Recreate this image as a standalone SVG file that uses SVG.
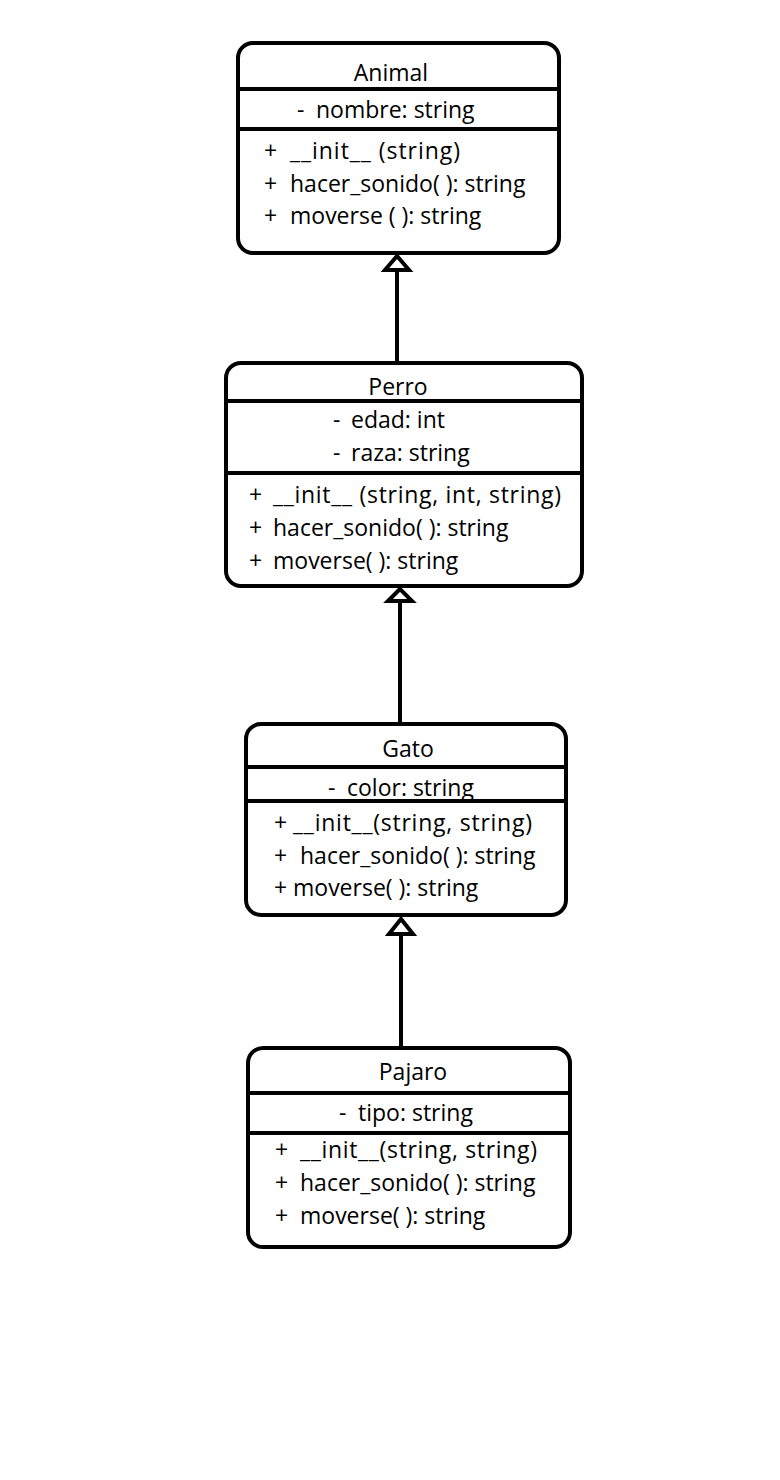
<svg xmlns="http://www.w3.org/2000/svg" width="780" height="1480" viewBox="0 0 780 1480">
<style>
.box{fill:#fff;stroke:#000;stroke-width:4}
.div{stroke:#000;stroke-width:4}
text{font-family:"Open Sans","Noto Sans",sans-serif;font-size:23px;fill:#000}
.c{text-anchor:middle}
.edge{stroke:#000;stroke-width:4;fill:none}
.head{fill:#fff;stroke:#000;stroke-width:4;stroke-linejoin:miter}
</style>
<rect width="780" height="1480" fill="#fff"/>
<g id="connectors">
<line class="edge" x1="397" y1="362" x2="397" y2="268"/>
<polygon class="head" points="397,256 385,270 409,270"/>
<line class="edge" x1="400" y1="723" x2="400" y2="600"/>
<polygon class="head" points="400,589 388,601 412,601"/>
<line class="edge" x1="401" y1="1047" x2="401" y2="933"/>
<polygon class="head" points="401,919 389,934 413,934"/>
</g>
<g id="Animal">
<rect class="box" x="238" y="43" width="321" height="210" rx="15"/>
<line class="div" x1="238" y1="89" x2="559" y2="89"/>
<line class="div" x1="238" y1="129" x2="559" y2="129"/>
<text class="c" x="391" y="81">Animal</text>
<text y="118"><tspan x="297">-</tspan><tspan x="316">nombre: string</tspan></text>
<text y="159"><tspan x="264">+</tspan><tspan x="290" textLength="170" lengthAdjust="spacing">__init__ (string)</tspan></text>
<text y="192"><tspan x="264">+</tspan><tspan x="290">hacer_sonido( ): string</tspan></text>
<text y="224"><tspan x="264">+</tspan><tspan x="290">moverse ( ): string</tspan></text>
</g>
<g id="Perro">
<rect class="box" x="226" y="363" width="356" height="223" rx="15"/>
<line class="div" x1="226" y1="401" x2="582" y2="401"/>
<line class="div" x1="226" y1="473" x2="582" y2="473"/>
<text class="c" x="398" y="395">Perro</text>
<text y="428"><tspan x="333">-</tspan><tspan x="351">edad: int</tspan></text>
<text y="461"><tspan x="333">-</tspan><tspan x="351">raza: string</tspan></text>
<text y="503"><tspan x="249">+</tspan><tspan x="273" textLength="288" lengthAdjust="spacing">__init__ (string, int, string)</tspan></text>
<text y="536"><tspan x="249">+</tspan><tspan x="273">hacer_sonido( ): string</tspan></text>
<text y="569"><tspan x="249">+</tspan><tspan x="273">moverse( ): string</tspan></text>
</g>
<g id="Gato">
<rect class="box" x="246" y="724" width="320" height="191" rx="15"/>
<line class="div" x1="246" y1="767" x2="566" y2="767"/>
<line class="div" x1="246" y1="801" x2="566" y2="801"/>
<text class="c" x="408" y="757">Gato</text>
<text y="796"><tspan x="328">-</tspan><tspan x="347">color: string</tspan></text>
<text y="831"><tspan x="274">+</tspan><tspan x="293" textLength="239" lengthAdjust="spacing">__init__(string, string)</tspan></text>
<text y="864"><tspan x="274">+</tspan><tspan x="300">hacer_sonido( ): string</tspan></text>
<text y="896"><tspan x="274">+</tspan><tspan x="293">moverse( ): string</tspan></text>
</g>
<g id="Pajaro">
<rect class="box" x="248" y="1048" width="322" height="199" rx="15"/>
<line class="div" x1="248" y1="1093" x2="570" y2="1093"/>
<line class="div" x1="248" y1="1133" x2="572" y2="1133"/>
<text class="c" x="413" y="1080">Pajaro</text>
<text y="1121"><tspan x="339">-</tspan><tspan x="358">tipo: string</tspan></text>
<text y="1158"><tspan x="275">+</tspan><tspan x="300" textLength="237" lengthAdjust="spacing">__init__(string, string)</tspan></text>
<text y="1191"><tspan x="275">+</tspan><tspan x="300">hacer_sonido( ): string</tspan></text>
<text y="1224"><tspan x="275">+</tspan><tspan x="300">moverse( ): string</tspan></text>
</g>
</svg>
